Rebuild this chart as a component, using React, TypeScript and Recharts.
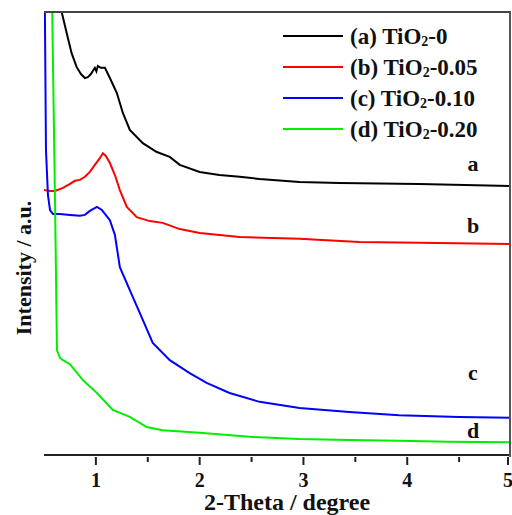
import React from 'react';
import { LineChart, Line, XAxis, YAxis } from 'recharts';

// 2-Theta (degree) / intensity (a.u., offset stacked)
const seriesA = [
  { x: 0.66, y: 101 }, { x: 0.718, y: 95.3 }, { x: 0.766, y: 90.7 }, { x: 0.814, y: 87.6 },
  { x: 0.856, y: 86.0 }, { x: 0.894, y: 85.1 }, { x: 0.923, y: 85.3 }, { x: 0.952, y: 86.0 },
  { x: 0.99, y: 87.4 }, { x: 1.005, y: 86.6 }, { x: 1.019, y: 87.8 }, { x: 1.048, y: 87.4 },
  { x: 1.087, y: 87.4 }, { x: 1.135, y: 85.1 }, { x: 1.202, y: 81.7 }, { x: 1.26, y: 77.2 },
  { x: 1.327, y: 73.4 }, { x: 1.452, y: 70.4 }, { x: 1.587, y: 68.4 }, { x: 1.712, y: 67.3 },
  { x: 1.808, y: 65.5 }, { x: 2.0, y: 63.9 }, { x: 2.19, y: 63.2 }, { x: 2.385, y: 62.8 },
  { x: 2.577, y: 62.3 }, { x: 2.962, y: 61.6 }, { x: 3.346, y: 61.4 }, { x: 4.115, y: 61.2 },
  { x: 5.0, y: 60.7 },
];

const seriesB = [
  { x: 0.5, y: 59.8 }, { x: 0.558, y: 59.6 }, { x: 0.606, y: 59.6 }, { x: 0.683, y: 60.3 },
  { x: 0.75, y: 61.2 }, { x: 0.798, y: 61.9 }, { x: 0.846, y: 62.1 }, { x: 0.894, y: 62.8 },
  { x: 0.942, y: 63.9 }, { x: 0.99, y: 65.5 }, { x: 1.038, y: 67.0 }, { x: 1.067, y: 68.1 },
  { x: 1.096, y: 67.5 }, { x: 1.135, y: 65.9 }, { x: 1.183, y: 63.2 }, { x: 1.231, y: 59.8 },
  { x: 1.298, y: 56.0 }, { x: 1.394, y: 53.7 }, { x: 1.519, y: 52.8 }, { x: 1.644, y: 52.4 },
  { x: 1.808, y: 51.0 }, { x: 2.0, y: 50.1 }, { x: 2.385, y: 49.2 }, { x: 2.962, y: 48.8 },
  { x: 3.538, y: 48.1 }, { x: 4.115, y: 47.9 }, { x: 5.0, y: 47.6 },
];

const seriesC = [
  { x: 0.508, y: 102 }, { x: 0.519, y: 68.8 }, { x: 0.538, y: 58.7 }, { x: 0.558, y: 55.3 },
  { x: 0.587, y: 54.4 }, { x: 0.654, y: 54.4 }, { x: 0.75, y: 54.2 }, { x: 0.846, y: 54.0 },
  { x: 0.894, y: 54.2 }, { x: 0.942, y: 55.1 }, { x: 1.01, y: 56.0 }, { x: 1.058, y: 55.3 },
  { x: 1.135, y: 53.0 }, { x: 1.183, y: 49.7 }, { x: 1.231, y: 42.4 }, { x: 1.327, y: 37.2 },
  { x: 1.452, y: 30.5 }, { x: 1.548, y: 25.3 }, { x: 1.712, y: 21.4 }, { x: 1.904, y: 18.5 },
  { x: 2.067, y: 16.3 }, { x: 2.288, y: 14.0 }, { x: 2.577, y: 12.0 }, { x: 2.962, y: 10.6 },
  { x: 3.442, y: 9.7 }, { x: 3.923, y: 9.0 }, { x: 4.5, y: 8.6 }, { x: 5.0, y: 8.4 },
];

const seriesD = [
  { x: 0.578, y: 102 }, { x: 0.606, y: 57.6 }, { x: 0.625, y: 23.7 }, { x: 0.654, y: 21.9 },
  { x: 0.683, y: 21.4 }, { x: 0.75, y: 20.5 }, { x: 0.875, y: 16.9 }, { x: 1.01, y: 14.0 },
  { x: 1.163, y: 10.2 }, { x: 1.327, y: 8.6 }, { x: 1.49, y: 6.3 }, { x: 1.644, y: 5.6 },
  { x: 2.0, y: 5.0 }, { x: 2.48, y: 4.1 }, { x: 2.96, y: 3.6 }, { x: 3.44, y: 3.4 },
  { x: 3.92, y: 3.2 }, { x: 4.4, y: 3.0 }, { x: 5.0, y: 2.9 },
];

const xTicks = [1, 1.5, 2, 2.5, 3, 3.5, 4, 4.5, 5];
const legendNames = ['(a) TiO', '(b) TiO', '(c) TiO', '(d) TiO'];
const legendSuffix = ['-0', '-0.05', '-0.10', '-0.20'];
const colors = ['#000000', '#ff0000', '#0000ff', '#00ee00'];
const curveLabels = ['a', 'b', 'c', 'd'];

const serif = '"Liberation Serif", "Times New Roman", serif';

const XTick = (props: any) => {
  const { x, y, payload } = props;
  const major = Number.isInteger(payload.value);
  return (
    <g>
      <line x1={x} x2={x} y1={y} y2={y + (major ? 8 : 5)} stroke="#222" strokeWidth={2} />
      {major && (
        <text x={x} y={y + 30} textAnchor="middle" fontFamily={serif} fontWeight="bold" fontSize={20} fill="#111">
          {payload.value}
        </text>
      )}
    </g>
  );
};

export default function App() {
  const labelY = [171, 233, 380, 438];
  return (
    <div style={{ position: 'absolute', left: 0, top: 0, width: 512, height: 515, background: '#fff' }}>
      <LineChart width={512} height={515} margin={{ top: 12, right: 1, left: 44, bottom: 0 }}>
        <XAxis
          type="number"
          dataKey="x"
          domain={[0.5, 5]}
          ticks={xTicks}
          allowDataOverflow
          height={60}
          tickSize={0}
          tickLine={false}
          axisLine={{ stroke: '#222', strokeWidth: 2 }}
          tick={<XTick />}
        />
        <YAxis type="number" domain={[0, 100]} allowDataOverflow width={0} tick={false} tickLine={false} axisLine={{ stroke: '#222', strokeWidth: 2 }} />
        {[seriesA, seriesB, seriesC, seriesD].map((d, i) => (
          <Line
            key={i}
            data={d}
            dataKey="y"
            type="linear"
            stroke={colors[i]}
            strokeWidth={2}
            dot={false}
            isAnimationActive={false}
          />
        ))}
      </LineChart>
      {/* frame: top and right edges of the plot box */}
      <div
        style={{
          position: 'absolute',
          left: 44,
          top: 11,
          width: 465,
          height: 444,
          borderTop: '2px solid #444',
          borderRight: '2px solid #555',
          pointerEvents: 'none',
        }}
      />
      <svg width={512} height={515} style={{ position: 'absolute', left: 0, top: 0, pointerEvents: 'none' }}>
        {legendNames.map((n, i) => (
          <g key={n + i}>
            <line x1={283} x2={343} y1={36 + i * 31} y2={36 + i * 31} stroke={colors[i]} strokeWidth={2} />
            <text x={350} y={44 + i * 31} fontFamily={serif} fontWeight="bold" fontSize={23} fill="#111">
              {n}
              <tspan fontSize={14} dy={2}>2</tspan>
              <tspan dy={-2}>{legendSuffix[i]}</tspan>
            </text>
          </g>
        ))}
        {curveLabels.map((l, i) => (
          <text key={l} x={473} y={labelY[i]} textAnchor="middle" fontFamily={serif} fontWeight="bold" fontSize={22} fill="#111">
            {l}
          </text>
        ))}
        <text x={287} y={510} textAnchor="middle" fontFamily={serif} fontWeight="bold" fontSize={24} fill="#111">
          2-Theta / degree
        </text>
        <text
          x={0}
          y={0}
          transform="translate(31 268) rotate(-90)"
          textAnchor="middle"
          fontFamily={serif}
          fontWeight="bold"
          fontSize={22}
          fill="#111"
        >
          Intensity / a.u.
        </text>
      </svg>
    </div>
  );
}
